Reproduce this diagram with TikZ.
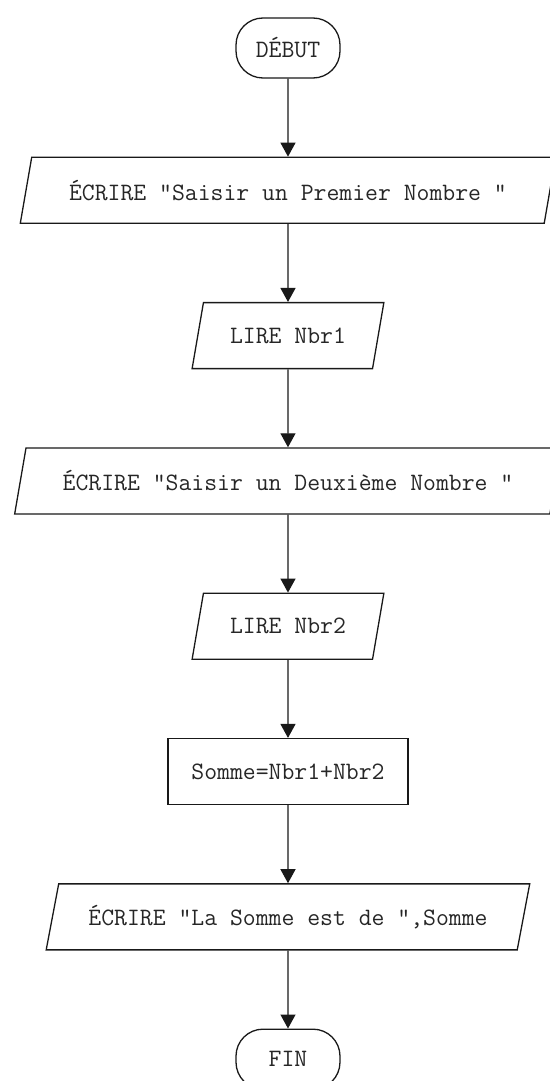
\documentclass[tikz,border=0pt]{standalone}
\usetikzlibrary{positioning,shapes.geometric,arrows.meta}

\tikzset{
  base/.style={draw=black!90, line width=1.3pt, text=black!85,
    font=\ttfamily\fontsize{25pt}{27pt}\selectfont, minimum height=66pt},
  term/.style={base, rectangle, rounded corners=27pt, minimum width=104pt, minimum height=60pt},
  io/.style={base, trapezium, trapezium stretches=true, trapezium left angle=70,
    trapezium right angle=110},
  proc/.style={base, rectangle, minimum width=240pt}
}

\begin{document}
\begin{tikzpicture}[node distance=78pt,
    flow/.style={draw=black!90, line width=1.3pt, -{Triangle[length=14pt,width=15pt]}}]
  \useasboundingbox (0,0) rectangle (549pt,-1081pt);

  \node[term] (debut) at (288pt,-48pt) {DÉBUT};
  \node[io, below=of debut, minimum width=536pt] (ecr1) {ÉCRIRE "Saisir un Premier Nombre "};
  \node[io, below=of ecr1, minimum width=192pt] (lire1) {LIRE Nbr1};
  \node[io, below=of lire1, minimum width=548pt] (ecr2) {ÉCRIRE "Saisir un Deuxième Nombre "};
  \node[io, below=of ecr2, minimum width=192pt] (lire2) {LIRE Nbr2};
  \node[proc, below=of lire2] (somme) {Somme=Nbr1+Nbr2};
  \node[io, below=of somme, minimum width=484pt] (ecr3) {ÉCRIRE "La Somme est de ",Somme};
  \node[term, below=of ecr3] (fin) {FIN};

  \draw[flow] (debut) -- (ecr1);
  \draw[flow] (ecr1) -- (lire1);
  \draw[flow] (lire1) -- (ecr2);
  \draw[flow] (ecr2) -- (lire2);
  \draw[flow] (lire2) -- (somme);
  \draw[flow] (somme) -- (ecr3);
  \draw[flow] (ecr3) -- (fin);
\end{tikzpicture}
\end{document}
